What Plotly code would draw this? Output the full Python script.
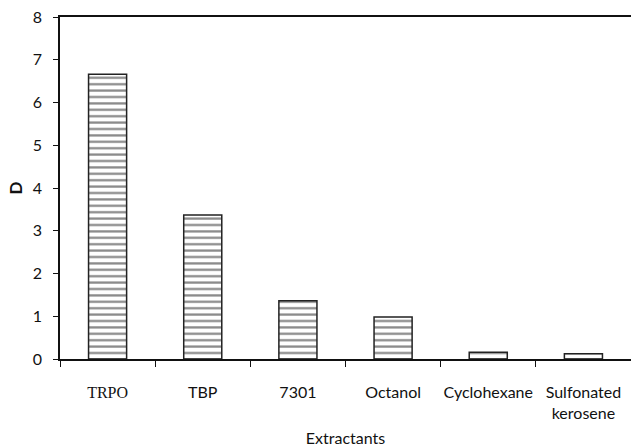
import plotly.graph_objects as go

categories = ["TRPO", "TBP", "7301", "Octanol", "Cyclohexane", "Sulfonated kerosene"]
tick_labels = ['<span style="font-family:Liberation Serif">TRPO</span>', "TBP", "7301",
               "Octanol", "Cyclohexane", "Sulfonated<br>kerosene"]
D_values = [6.66, 3.37, 1.36, 0.98, 0.16, 0.12]

fig = go.Figure(go.Bar(
    x=categories, y=D_values, width=0.4,
    marker=dict(color="white", line=dict(color="#222", width=1.5),
                pattern=dict(shape="-", size=6.4, solidity=0.35, fgcolor="#111", bgcolor="white",
                             fillmode="overlay")),
))

font_fam = "Lato, Open Sans, sans-serif"
fig.update_layout(
    width=631, height=447, margin=dict(l=60, r=0, t=17, b=88),
    plot_bgcolor="white", paper_bgcolor="white", showlegend=False,
    font=dict(family=font_fam, size=16, color="#111"),
    xaxis=dict(tickmode="array", tickvals=categories, ticktext=tick_labels,
               showline=True, linecolor="#111", linewidth=1.5, mirror=True,
               ticks="outside", tickson="boundaries", ticklen=6, tickcolor="#111",
               ticklabelstandoff=18, tickangle=0, automargin=False,
               title=dict(text="Extractants", font=dict(size=16), standoff=19),
               showgrid=False),
    yaxis=dict(range=[0, 8], dtick=1, showline=True, linecolor="#111", linewidth=1.5,
               ticks="outside", ticklen=5, tickcolor="#111", showgrid=False, zeroline=False,
               ticklabelstandoff=8, automargin=False,
               title=dict(text="<b>D</b>", font=dict(size=17), standoff=6)),
)
fig.write_html("out.html")
